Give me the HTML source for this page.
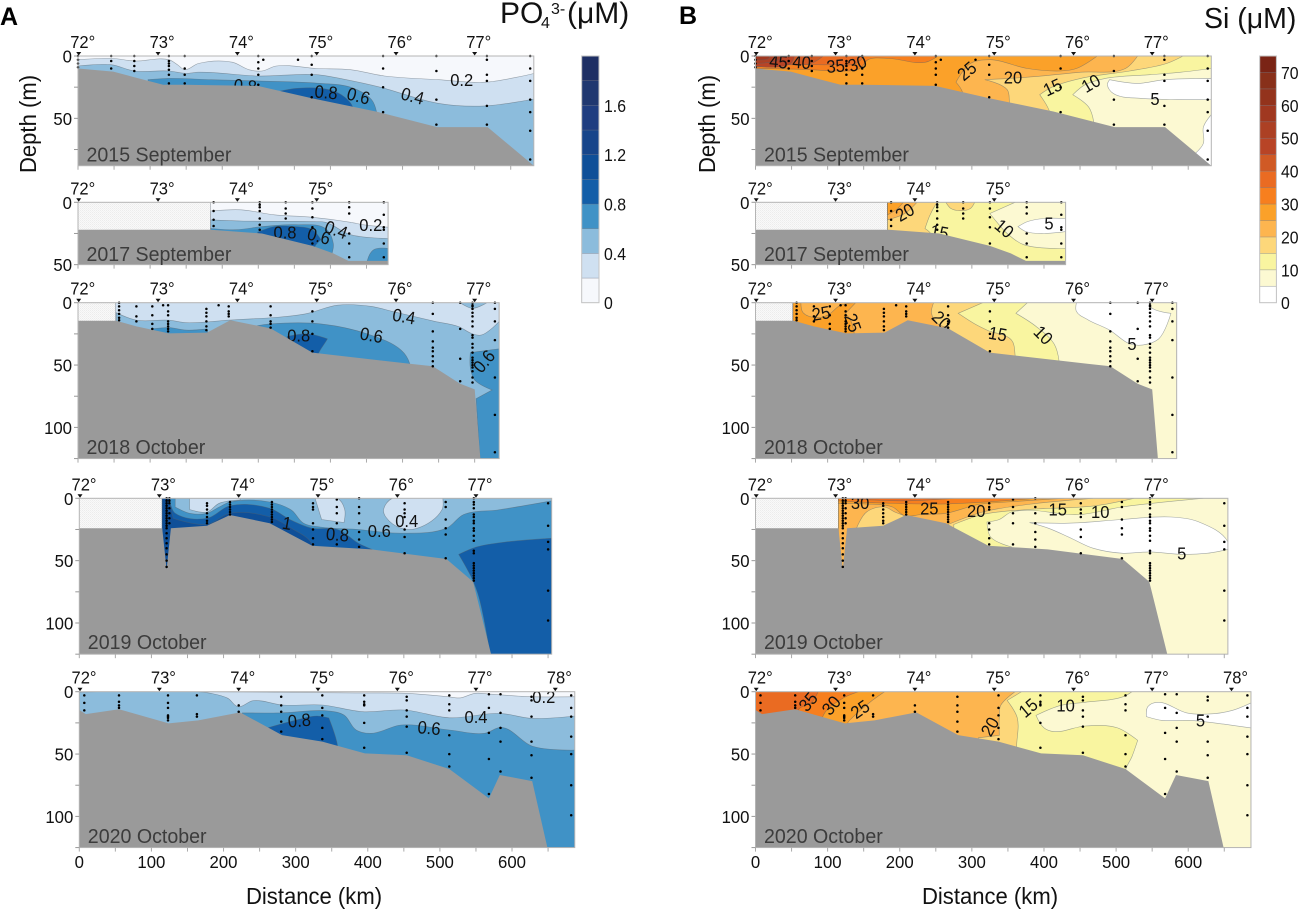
<!DOCTYPE html>
<html lang="en">
<head>
<meta charset="utf-8">
<title>PO4 and Si sections</title>
<style>
html,body{margin:0;padding:0;background:#fff;}
svg{display:block;font-family:"Liberation Sans",Arial,sans-serif;}
</style>
</head>
<body>
<svg id="figure" xmlns="http://www.w3.org/2000/svg" width="1299" height="909" viewBox="0 0 1299 909">
  <defs>
    <pattern id="hatch" patternUnits="userSpaceOnUse" width="2" height="2">
      <rect width="2" height="2" fill="#f9f9f9"/>
      <rect width="1" height="1" fill="#ececec"/>
      <rect x="1" y="1" width="1" height="1" fill="#f1f1f1"/>
    </pattern>
  </defs>
  <rect width="1299" height="909" fill="#fff"/>
  <text x="0" y="25" font-size="25" font-weight="bold" fill="#000">A</text>
  <text x="679" y="24" font-size="25" font-weight="bold" fill="#000">B</text>
  <text y="23" font-size="30" fill="#111"><tspan x="500">PO</tspan><tspan x="541" y="28" font-size="16">4</tspan><tspan x="551" y="14" font-size="16">3-</tspan><tspan x="567" y="23">(μM)</tspan></text>
  <text x="1204" y="28" font-size="28.5" fill="#111">Si (μM)</text>
  <text transform="translate(36,124) rotate(-90) scale(0.96,1)" text-anchor="middle" font-size="23" fill="#111">Depth (m)</text>
  <text transform="translate(715,124) rotate(-90) scale(0.96,1)" text-anchor="middle" font-size="23" fill="#111">Depth (m)</text>
  <text transform="translate(314,904) scale(0.96,1)" text-anchor="middle" font-size="23" fill="#111">Distance (km)</text>
  <text transform="translate(990,904) scale(0.96,1)" text-anchor="middle" font-size="23" fill="#111">Distance (km)</text>
</svg>
<script>
/* ---------- Shared section data (km, metres) ---------- */
const cruises = ['2015 September', '2017 September', '2018 October', '2019 October', '2020 October'];
const distanceMax = [632, 430, 584, 655, 687];
const depthMax = [88, 50, 125, 125, 125];
const noDataKm = [0, 184, 52, 115, 0];
const latitudeLabels = [72, 73, 74, 75, 76, 77, 78];
const latitudeKm = [1, 111, 221, 331, 441, 550, 660];
const latitudeCount = [6, 4, 6, 6, 7];
const distanceTickLabels = [0, 100, 200, 300, 400, 500, 600];

const seabed2015 = [[0,10],[49,12.5],[78,17],[118,23],[148,23],[249,24],[325,34],[413,44.5],[498,57],[568,57],[632,88]];
const seabed2017 = [[0,22],[184,22],[255,25],[325,35],[354,41],[375,47],[430,47]];
const seabed2018 = [[0,14.4],[53,14.4],[81,19],[126,24.6],[179,24],[211,14],[267,20.6],[325,40],[460,49],[492,51],[530,65],[550,69.5],[558,125]];
const seabed2019 = [[0,24],[115,24],[121,57],[127,24],[177,22],[209,13.4],[264,20],[323,38],[405,41],[509,48.7],[546,67],[571,125]];
const seabed2020 = [[0,14.7],[9,18],[55,14],[124,25.4],[165,23],[223,16.6],[281,34.8],[337,40],[396,49.5],[454,51],[513,62],[568,85.6],[583,66.8],[628,71.7],[649,125]];
const seabeds = [seabed2015, seabed2017, seabed2018, seabed2019, seabed2020];

const stations2015 = [[0,[0,3,6,9]],[46,[0,4,10]],[78,[0,4,8,12]],[126,[0,4,6,8,11,15,22]],[148,[0,10,15,22]],[250,[0,5,10,15,23]],[257,[3]],[305,[3]],[324,[0,7,15,33]],[423,[0,10,25,45]],[497,[0,12,35,55]],[567,[0,3,15,20,40,55]],[627,[0,10,20,35,45,60,83]]];
const stations2017 = [[188,[0,7,14,19]],[252,[0,2,4,7,13,18,22]],[288,[0,5,9,13]],[325,[0,5,12,20,33]],[376,[0,4,9,25,33,44]],[424,[0,10,20,22,33,44]]];
const stations2018 = [[57,[0,3,6,9,12,14]],[81,[3,11,15]],[103,[3,10,17,21]],[118,[2]],[125,[2,7,10,15,17,19,21,23]],[178,[5,8,11,15,19,22]],[195,[2]],[209,[3,7,9,11]],[267,[3,10,15,17,20]],[325,[7,15,25,39]],[492,[0,9,23,31,36,39,43,47,51]],[530,[0,21,45,63]],[547,[0,2,3,5,8,11,15,19,26,28,33,36,40,44,46,48,50,52,55,60,64]],[578,[0,5,15,30,60,90,120]]];
const stations2019 = [[121,[0,2,4,6,8,10,12,14,16,18,20,22,24,28,32,36,40,45,50,55]],[125,[0,2,4,8,12,16,20]],[177,[4,6,9,12,15,18,20]],[209,[3,5,7,9,11,13]],[267,[3,5,7,9,11,13,15,17,19]],[324,[4,7,9,20,25,32,37]],[357,[1,7,12,20,37]],[388,[0,7,12,20,27,33,39]],[451,[4,9,12,15,25,31,44]],[508,[3,7,17,24,29,48]],[547,[0,3,5,8,13,15,18,20,24,26,30,34,42,44,52,54,56,58,60,62,64,66]],[650,[4,22,35,41,74,98]]];
const stations2020 = [[7,[3,9,15]],[55,[3,8,11,13]],[123,[3,9,13,19,20,21,23]],[163,[3,18,20]],[221,[11,16]],[280,[4,11,16,24,32]],[337,[3,13,19,29,38]],[395,[3,8,10,11,25,45]],[454,[4,7,15,20,28,49]],[513,[3,10,15,35,50,60]],[568,[2,13,33,54,82]],[584,[2,17,29,40,64]],[627,[4,7,20,40,51,69]],[682,[3,13,20,36,50,75,99]]];
const stationSets = [stations2015, stations2017, stations2018, stations2019, stations2020];

/* ---------- PO4 contour bands: [lower level, boundary points] ---------- */
const po4Bands2015 = [
 [0,[[0,0],[632,0],[632,100],[0,100]]],
 [0.2,[[0,3],[49,2],[78,4],[126,3],[138,7],[148,11],[167,6],[214,5],[237,11],[255,12],[275,8],[331,10],[378,11],[425,16],[500,19],[565,21],[632,14],[632,100],[0,100]]],
 [0.4,[[0,8],[46,7],[78,12],[126,12],[150,14],[167,13],[249,16],[331,15],[372,19],[419,25],[500,38],[565,40],[632,34.5],[632,100],[0,100]]],
 [0.6,[[97,19],[126,18],[185,19],[249,20],[337,22],[378,25],[407,35],[414,45],[414,100],[97,100]]],
 [0.8,[[267,30],[302,26],[348,27],[370,33],[381,41],[381,100],[267,100]]]
];
const po4Bands2017 = [
 [0,[[184,0],[430,0],[430,60],[184,60]]],
 [0.2,[[184,7],[226,6],[272,10],[325,12],[378,16],[395,18],[430,20],[430,60],[184,60]]],
 [0.4,[[184,14],[226,15],[325,15.5],[343,16],[378,26],[430,29],[430,60],[184,60]]],
 [0.6,[[184,21],[220,22],[255,19.5],[302,18],[343,21],[354,33],[351,45],[351,60],[184,60]]],
 [0.6,[[401,47],[410,38],[430,37],[430,60],[401,60]]],
 [0.8,[[249,24],[272,19.5],[302,19.5],[325,22],[337,30],[328,36],[328,60],[249,60]]]
];
const po4Bands2018 = [
 [0.2,[[52,0],[584,0],[584,130],[52,130]]],
 [0.4,[[53,8],[81,14],[126,14],[150,16],[208,14],[315,9],[360,2],[407,3],[436,7],[495,15],[527,19],[547,25],[559,26],[584,15],[584,130],[53,130]]],
 [0.4,[[530,0],[547,4.5],[567,0]]],
 [0.6,[[103,21],[126,20],[150,22],[179,21],[182,30],[103,30]]],
 [0.6,[[243,19],[267,17],[337,17],[401,25],[448,38],[460,49],[460,130],[243,130]]],
 [0.6,[[544,40],[584,37],[584,130],[558,130],[552,77],[574,70],[550,62],[544,52]]],
 [0.8,[[290,27],[319,25],[346,29],[337,37],[328,44],[290,44]]]
];
const po4Bands2019 = [
 [0.4,[[115,0],[655,0],[655,130],[115,130]]],
 [0.2,[[153,0],[153,9],[177,11],[194,4],[223,1.3],[223,0]]],
 [0.2,[[327,0],[336,17],[367,19.5],[368,9],[358,0]]],
 [0.2,[[422,9],[434,0],[504,0],[503,9],[469,24],[446,24],[425,15]]],
 [0.6,[[115,0],[133,0],[133,7],[153,12],[177,12],[194,7],[209,3],[264,3],[294,9.4],[311,20],[334,23],[387,25],[446,28],[509,24],[533,13],[580,9.4],[655,2],[655,130],[115,130]]],
 [0.8,[[115,0],[121,0],[133,12],[177,16],[209,6],[264,8],[294,17.6],[323,24],[358,25],[387,36],[406,41],[406,130],[115,130]]],
 [0.8,[[526,45],[551,39],[592,35],[655,32],[655,130],[571,130],[554,79],[545,65],[536,55]]],
 [1.0,[[115,0],[124,0],[130,16],[177,21],[209,12],[264,15],[294,24],[323,37],[323,130],[115,130]]]
];
const po4Bands2020 = [
 [0,[[0,0],[687,0],[687,130],[0,130]]],
 [0.2,[[165,0],[383,1],[453,1.3],[511,4],[528,5],[549,1.3],[570,2],[627,4],[687,4],[687,130],[165,130]]],
 [0.4,[[0,0.5],[165,0],[182,1.3],[206,5.3],[220,12],[241,7.2],[282,10.7],[337,10.7],[393,16],[451,14.7],[513,20.9],[583,17.4],[628,21.4],[687,19.5],[687,130],[0,130]]],
 [0.6,[[226,17],[279,17],[346,15.5],[367,18.7],[384,30.7],[405,33.4],[446,26.7],[513,30.7],[562,33.4],[586,28.6],[628,43.6],[687,46.8],[687,130],[226,130]]],
 [0.8,[[261,29],[299,23],[329,19.5],[346,21],[358,43],[358,130],[261,130]]]
];
const po4Sets = [po4Bands2015, po4Bands2017, po4Bands2018, po4Bands2019, po4Bands2020];

/* ---------- Si contour bands ---------- */
const siBands2015 = [
 [5,[[0,0],[632,0],[632,100],[0,100]]],
 [0,[[491,19],[530,22],[567,19],[632,18],[632,35],[587,35],[536,34],[496,30],[488,23]]],
 [0,[[632,47],[621,57],[621,70],[610,78],[627,88],[632,88]]],
 [10,[[632,0],[632,10],[590,13],[547,15],[485,18],[457,23],[440,31],[462,41],[469,53],[469,100],[0,100],[0,0]]],
 [15,[[593,0],[570,6],[519,12],[451,18],[411,25],[394,31],[408,45],[408,100],[0,100],[0,0]]],
 [20,[[530,0],[513,10],[451,13],[377,17],[318,19],[349,27],[352,37],[352,100],[0,100],[0,0]]],
 [25,[[474,0],[445,10],[423,12],[377,10],[326,3],[298,6],[278,21],[287,29],[287,100],[0,100],[0,0]]],
 [30,[[253,0],[236,5],[185,2],[156,3],[145,10],[111,12],[77,11],[0,10],[0,0]]],
 [35,[[151,0],[139,6],[105,7],[77,7],[43,7],[0,9],[0,0]]],
 [40,[[94,0],[77,6],[37,7],[0,8.5],[0,0]]],
 [45,[[54,0],[49,6],[0,8],[0,0]]],
 [50,[[37,0],[32,3],[0,6],[0,0]]],
 [55,[[20,0],[18,2],[0,3],[0,0]]]
];
const siBands2017 = [
 [5,[[183,0],[430,0],[430,60],[183,60]]],
 [0,[[430,13],[400,13],[377,15.5],[364,19.5],[375,23.5],[400,25],[430,23.5]]],
 [10,[[183,0],[360,0],[325,9],[332,14],[349,25],[372,34],[430,37],[430,60],[183,60]]],
 [15,[[183,0],[252,0],[248,3.5],[241,11.5],[235,21],[244,26],[244,60],[183,60]]],
 [15,[[264,0],[271,5],[284,6.7],[298,5],[304,0]]],
 [20,[[183,0],[224,0],[207,9],[183,14]]],
 [25,[[183,0],[205,0],[195,6],[183,10]]]
];
const siBands2018 = [
 [5,[[52,0],[584,0],[584,130],[52,130]]],
 [0,[[445,0],[445,7],[462,14],[491,22],[519,33],[536,34],[559,29],[576,8.5],[547,3],[546,0]]],
 [10,[[52,0],[377,0],[361,8.5],[389,19],[414,33],[421,47],[421,130],[52,130]]],
 [15,[[52,0],[315,0],[281,8.5],[304,17],[321,22],[355,30],[360,42],[360,130],[52,130]]],
 [20,[[52,0],[247,0],[244,8.5],[253,17],[270,22],[270,130],[52,130]]],
 [25,[[52,0],[63,0],[66,8],[85,12],[100,10],[118,2],[139,0],[125,8.5],[134,17],[134,130],[52,130]]]
];
const siBands2019 = [
 [5,[[115,0],[655,0],[655,130],[115,130]]],
 [0,[[380,19.5],[434,20],[508,17],[576,15],[615,19],[655,35],[655,41],[627,44],[593,45],[547,43],[508,44],[468,40],[434,31],[406,24]]],
 [10,[[115,0],[621,0],[508,7],[451,13],[355,11],[338,17],[321,19],[326,31],[355,39],[355,130],[115,130]]],
 [15,[[115,0],[525,0],[471,6],[377,9],[315,13],[275,21],[275,130],[115,130]]],
 [20,[[115,0],[468,0],[377,5],[315,11],[267,21],[267,130],[115,130]]],
 [15,[[140,24],[154,11],[179,7],[193,11],[207,14],[179,23]]],
 [25,[[115,0],[428,0],[349,3],[309,5],[264,12],[230,13],[207,14],[190,7],[151,4.5],[120,4],[115,4]]],
 [30,[[115,0],[389,0],[264,4.5],[162,3.5],[115,2]]],
 [35,[[120,0],[275,0],[207,2]]]
];
const siBands2020 = [
 [5,[[0,0],[687,0],[687,130],[0,130]]],
 [0,[[542,20],[544,12],[558,8.5],[598,17],[627,18],[661,15],[687,9],[687,29],[649,26],[604,23],[564,23]]],
 [10,[[0,0],[522,0],[510,4],[457,8.5],[423,11],[389,19],[400,29],[414,32],[457,27.5],[502,29],[530,39],[522,52],[513,63],[513,140],[0,140]]],
 [15,[[0,0],[369,0],[349,7],[363,21],[362,44],[362,140],[0,140]]],
 [20,[[0,0],[360,0],[340,11],[338,20],[338,35],[309,37],[309,140],[0,140]]],
 [25,[[0,0],[179,0],[162,7],[134,21],[128,25],[128,140],[0,140]]],
 [30,[[0,0],[143,0],[122,5],[94,19],[94,140],[0,140]]],
 [35,[[0,0],[87,0],[77,9],[60,14],[60,140],[0,140]]]
];
const siSets = [siBands2015, siBands2017, siBands2018, siBands2019, siBands2020];

/* ---------- Contour labels: [text, km, depth, rotation] ---------- */
const po4Labels = [
 [['0.2',532,19,0],['0.4',464,32,15],['0.6',389,32,15],['0.8',344,29,5],['0.8',232,24,5]],
 [['0.2',406,18,0],['0.4',358,22,20],['0.6',334,27,15],['0.8',287,24,0]],
 [['0.4',452,11,10],['0.6',407,26,10],['0.8',306,26,0],['0.6',563,47,-50]],
 [['1',288,20,10],['0.8',358,29,5],['0.6',416,26,0],['0.4',454,18,0]],
 [['0.2',644,4,0],['0.4',550,20,0],['0.6',485,29,5],['0.8',305,23,-5]]
];
const siLabels = [
 [['45',32,4.5,5],['40',64,5,5],['35',111,8,-5],['30',141,6,-20],['25',293,12,-40],['20',357,17,0],['15',412,25,-25],['10',465,22,-30],['5',554,34.5,0]],
 [['20',207,8,-30],['15',255,24,10],['10',345,21,40],['5',407,17,0]],
 [['25',91,8.5,-10],['25',135,16,70],['20',258,14,45],['15',336,25,10],['10',399,26,45],['5',522,33,0]],
 [['30',145,3.5,0],['25',241,8,0],['20',306,10,0],['15',419,9,0],['10',478,11,0],['5',591,44,0]],
 [['35',73,8,-50],['30',105,11,-50],['25',145,14,-35],['20',325,28,-60],['15',378,13,-40],['10',430,11,0],['5',617,23,0]]
];

/* ---------- Colour bars ---------- */
const po4Levels = [0, 0.2, 0.4, 0.6, 0.8, 1.0, 1.2, 1.4, 1.6, 1.8, 2.0];
const po4TickLabels = [0, 0.4, 0.8, 1.2, 1.6];
const siLevels = [0, 5, 10, 15, 20, 25, 30, 35, 40, 45, 50, 55, 60, 65, 70, 75];
const siTickLabels = [0, 10, 20, 30, 40, 50, 60, 70];

const po4Palette = ['#f6f8fc','#cfe0f1','#8cbcdc','#4092c6','#135ea8','#0f4f98','#17458a','#1f3d80','#203870','#1e2f64'];
const siPalette = ['#ffffff','#fcf9d2','#f9f5a0','#fdd77a','#fdb54f','#fba129','#f77f1e','#ea6b22','#d05a25','#b84426','#ac4024','#a03820','#93331c','#88301a','#7a2415'];

/* ---------- Layout and axis functions ---------- */
const svgNS = 'http://www.w3.org/2000/svg';
const root = document.getElementById('figure');
const PX_PER_KM = 0.7212;
const PX_PER_M = 1.247;
const plotTops = [56, 202.3, 302.7, 498.3, 691.7];
const originA = [78, 78, 78, 79.3, 79.3];
const originB = [755.5, 755.5, 755.5, 755.5, 755.5];
const yearBaselines = [161.7, 261, 454, 649, 843];

function make(tag, attrs, parent) {
  const node = document.createElementNS(svgNS, tag);
  for (const key in attrs) node.setAttribute(key, attrs[key]);
  parent.appendChild(node);
  return node;
}
function xAxis(origin) { return km => origin + km * PX_PER_KM; }
function yAxis(top) { return m => top + m * PX_PER_M; }
function toPoints(pts, x, y) { return pts.map(p => x(p[0]).toFixed(1) + ',' + y(p[1]).toFixed(1)).join(' '); }
function squeezed(px, py, sx) { return 'translate(' + px.toFixed(1) + ',' + py.toFixed(1) + ') scale(' + sx + ',1)'; }

/* Closed smooth path through the band boundary; sharp corners stay sharp. */
function smoothPath(pts, x, y) {
  const P = pts.map(p => [x(p[0]), y(p[1])]);
  const n = P.length;
  const tangents = P.map((p, i) => {
    const a = P[(i - 1 + n) % n], b = P[(i + 1) % n];
    let ux = p[0] - a[0], uy = p[1] - a[1], vx = b[0] - p[0], vy = b[1] - p[1];
    const lu = Math.hypot(ux, uy) || 1, lv = Math.hypot(vx, vy) || 1;
    ux /= lu; uy /= lu; vx /= lv; vy /= lv;
    if (ux * vx + uy * vy < 0.45) return [0, 0];
    const tx = ux + vx, ty = uy + vy, lt = Math.hypot(tx, ty) || 1;
    return [tx / lt, ty / lt];
  });
  let d = 'M' + P[0][0].toFixed(1) + ' ' + P[0][1].toFixed(1);
  for (let i = 0; i < n; i++) {
    const j = (i + 1) % n;
    const len = Math.hypot(P[j][0] - P[i][0], P[j][1] - P[i][1]) * 0.33;
    d += 'C' + (P[i][0] + tangents[i][0] * len).toFixed(1) + ' ' + (P[i][1] + tangents[i][1] * len).toFixed(1) +
         ' ' + (P[j][0] - tangents[j][0] * len).toFixed(1) + ' ' + (P[j][1] - tangents[j][1] * len).toFixed(1) +
         ' ' + P[j][0].toFixed(1) + ' ' + P[j][1].toFixed(1);
  }
  return d + 'Z';
}

function drawPanel(side, i, origin, bandSets, labelSets, palette, step) {
  const x = xAxis(origin);
  const y = yAxis(plotTops[i]);
  const xMax = distanceMax[i];
  const dMax = depthMax[i];
  const g = make('g', {}, root);
  
  

  const clipId = 'clip-' + side + '-' + i;
  const clip = make('clipPath', {id: clipId}, g);
  make('rect', {x: x(0), y: y(0), width: x(xMax) - x(0), height: y(dMax) - y(0)}, clip);
  const inner = make('g', {'clip-path': 'url(#' + clipId + ')'}, g);

  if (noDataKm[i] > 0) {
    const hatch = make('rect', {x: x(0), y: y(0), width: x(noDataKm[i]) - x(0), height: y(dMax) - y(0), fill: 'url(#hatch)'}, inner);
    
    
  }

  bandSets[i].forEach(band => {
    const shape = make('path', {
      d: smoothPath(band[1], x, y),
      fill: palette[Math.round(band[0] / step)],
      stroke: '#56606a', 'stroke-opacity': 0.55, 'stroke-width': 0.6
    }, inner);
    
    
  });

  labelSets[i].forEach(lab => {
    const t = make('text', {
      transform: 'translate(' + x(lab[1]).toFixed(1) + ',' + y(lab[2]).toFixed(1) + ') rotate(' + lab[3] + ') scale(0.92,1)',
      'text-anchor': 'middle', 'dominant-baseline': 'central', 'font-size': 18, fill: '#111'
    }, inner);
    t.textContent = lab[0];
    
    
  });

  const bed = seabeds[i];
  const bedPoly = bed.concat([[bed[bed.length - 1][0], dMax + 5], [0, dMax + 5]]);
  const seabedShape = make('polygon', {points: toPoints(bedPoly, x, y), fill: '#9a9a9a'}, inner);
  
  

  stationSets[i].forEach(st => {
    st[1].forEach(depth => {
      const dot = make('circle', {cx: x(st[0]).toFixed(1), cy: y(depth).toFixed(1), r: 1.25, fill: '#000'}, g);
      
      
    });
  });

  const frame = make('rect', {x: x(0), y: y(0), width: x(xMax) - x(0), height: y(dMax) - y(0), fill: 'none', stroke: '#b4b4b4', 'stroke-width': 1}, g);
  
  

  for (let d = 0; d <= dMax; d += 25) {
    const tick = make('line', {x1: x(0) - 4, x2: x(0), y1: y(d), y2: y(d), stroke: '#999', 'stroke-width': 1}, g);
    
    
    if (d % 50 === 0) {
      const lbl = make('text', {transform: squeezed(x(0) - 6, y(d) + 6.5, 0.93), 'text-anchor': 'end', 'font-size': 18, fill: '#111'}, g);
      lbl.textContent = d;
      
      
    }
  }
  for (let k = 0; k <= xMax; k += 50) {
    const tick = make('line', {x1: x(k), x2: x(k), y1: y(dMax), y2: y(dMax) + 4, stroke: '#aaa', 'stroke-width': 1}, g);
    
    
  }
  if (i === 4) {
    distanceTickLabels.forEach(k => {
      const lbl = make('text', {transform: squeezed(x(k), 868, 0.93), 'text-anchor': 'middle', 'font-size': 18, fill: '#111'}, g);
      lbl.textContent = k;
      
      
    });
  }

  for (let n = 0; n < latitudeCount[i]; n++) {
    const lx = x(latitudeKm[n]);
    const tri = make('polygon', {points: (lx - 2.5) + ',' + (y(0) - 4) + ' ' + (lx + 2.5) + ',' + (y(0) - 4) + ' ' + lx + ',' + (y(0) - 0.5), fill: '#111'}, g);
    
    
    const lbl = make('text', {transform: squeezed(lx + 4, y(0) - 8, 0.92), 'text-anchor': 'middle', 'font-size': 18, fill: '#111'}, g);
    lbl.textContent = latitudeLabels[n] + '°';
    
    
  }

  const year = make('text', {transform: squeezed(origin + 8.5, yearBaselines[i], 0.98), 'font-size': 20, fill: '#3c3c3c'}, g);
  year.textContent = cruises[i];
  
  
}

function drawColorbar(name, levels, ticks, palette, left, width, labelX) {
  const top = 56, bottom = 302.7;
  const maxLevel = levels[levels.length - 1];
  const scale = v => bottom - (v / maxLevel) * (bottom - top);
  const g = make('g', {}, root);
  
  
  for (let n = 0; n < levels.length - 1; n++) {
    const swatch = make('rect', {
      x: left, y: scale(levels[n + 1]), width: width, height: scale(levels[n]) - scale(levels[n + 1]),
      fill: palette[n], stroke: '#6f7680', 'stroke-opacity': 0.45, 'stroke-width': 0.6
    }, g);
    
    
  }
  const frame = make('rect', {x: left, y: top, width: width, height: bottom - top, fill: 'none', stroke: '#c4c4c4', 'stroke-width': 1}, g);
  
  
  ticks.forEach(v => {
    const lbl = make('text', {transform: squeezed(labelX, scale(v) + 6.5, 0.88), 'font-size': 18, fill: '#111'}, g);
    lbl.textContent = v;
    
    
  });
}

cruises.forEach((c, i) => {
  drawPanel('po4', i, originA[i], po4Sets, po4Labels, po4Palette, 0.2);
  drawPanel('si', i, originB[i], siSets, siLabels, siPalette, 5);
});
drawColorbar('po4', po4Levels, po4TickLabels, po4Palette, 581.7, 17.3, 604);
drawColorbar('si', siLevels, siTickLabels, siPalette, 1259.7, 16.7, 1281);
</script>
</body>
</html>
